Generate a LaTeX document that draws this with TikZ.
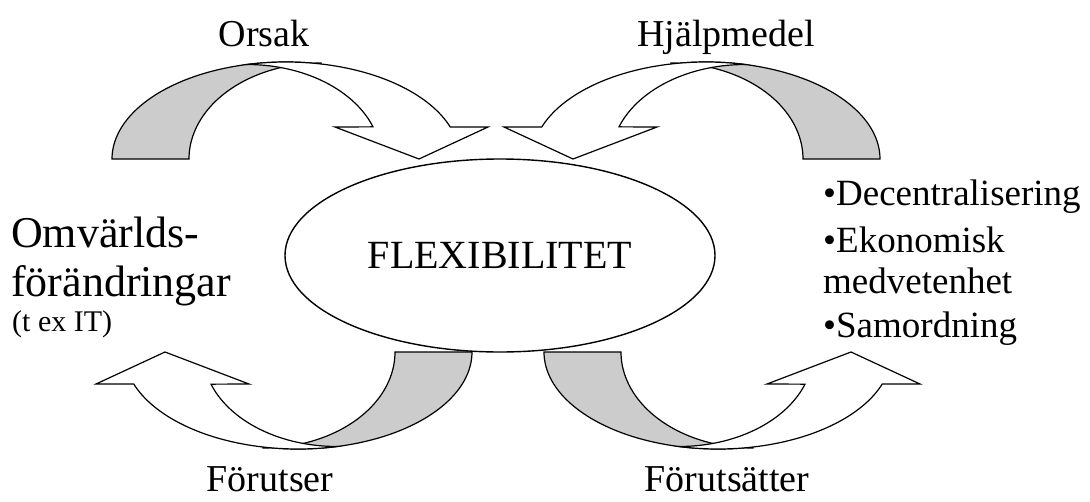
\documentclass[tikz,border=0pt]{standalone}
\usepackage{fontspec}
\setmainfont{Liberation Serif}
\usetikzlibrary{shapes.geometric}

% One curved block arrow (back face grey, front face white),
% drawn in pixel units with the y axis pointing down.
\newcommand\curvedblockarrow{%
  \filldraw[backface]
    plot[domain=180:78.4, samples=60] ({286+174*cos(\x)},{159-97*sin(\x)})
    -- plot[domain=90:180, samples=60] ({321+132*cos(\x)},{159-96*sin(\x)})
    -- cycle;
  \filldraw[frontface]
    plot[domain=103:19.26, samples=60] ({286+174*cos(\x)},{159-97*sin(\x)})
    -- (488,127) -- (419,159) -- (335,127)
    -- plot[domain=19.9:90, samples=60] ({247+134*cos(\x)},{159-94.5*sin(\x)})
    -- cycle;
}

\begin{document}
\begin{tikzpicture}[x=1pt, y=-1pt,
  backface/.style={fill=black!20, draw=black, line width=1.2pt, line join=miter},
  frontface/.style={fill=white, draw=black, line width=1.2pt, line join=miter},
  lbl/.style={font=\fontsize{38}{44}\selectfont, inner sep=0pt, anchor=base},
  sidetext/.style={font=\fontsize{44}{50}\selectfont, inner sep=0pt, anchor=base west},
  small/.style={font=\fontsize{30}{35}\selectfont, inner sep=0pt, anchor=base west},
  bullet/.style={font=\fontsize{37}{43}\selectfont, inner sep=0pt, anchor=base west},
  centre/.style={draw=black, line width=1.4pt, ellipse, inner sep=0pt,
    minimum width=430, minimum height=193, font=\fontsize{40}{46}\selectfont}]
\useasboundingbox (0,0) rectangle (1090,501);

% central ellipse
\node[centre] (flex) at (500,255.5) {FLEXIBILITET};

% the four curved arrows
\begin{scope}
  \curvedblockarrow
\end{scope}
\begin{scope}[shift={(992,0)}, xscale=-1]
  \curvedblockarrow
\end{scope}
\begin{scope}[shift={(584,511)}, rotate=180]
  \curvedblockarrow
\end{scope}
\begin{scope}[shift={(432,511)}, yscale=-1]
  \curvedblockarrow
\end{scope}

% arrow captions
\node[lbl] (orsak) at (264,46) {Orsak};
\node[lbl] (hjalp) at (726,46) {Hjälpmedel};
\node[lbl] (forutser) at (270,491) {Förutser};
\node[lbl] (forutsatter) at (727,491) {Förutsätter};

% left block of text
\node[sidetext] (omv) at (11,247) {Omvärlds-};
\node[sidetext] (forand) at (11,296) {förändringar};
\node[small] (tex) at (12,331) {(t ex IT)};

% right bullet list
\node[bullet] (dec) at (823,205) {•Decentralisering};
\node[bullet] (eko) at (823,252) {•Ekonomisk};
\node[bullet] (medv) at (823,293) {medvetenhet};
\node[bullet] (samo) at (823,337) {•Samordning};
\end{tikzpicture}
\end{document}
